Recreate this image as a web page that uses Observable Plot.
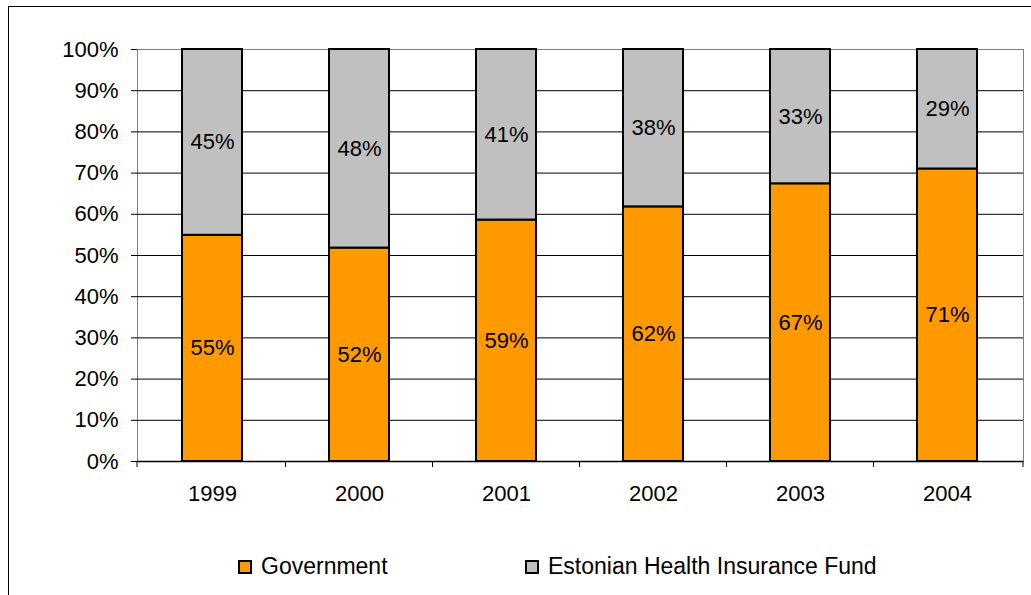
<!DOCTYPE html>
<html>
<head>
<meta charset="utf-8">
<script src="https://cdn.jsdelivr.net/npm/d3@7"></script>
<script src="https://cdn.jsdelivr.net/npm/@observablehq/plot@0.6"></script>
<style>
  html, body { margin: 0; padding: 0; background: #fff; overflow: hidden; }
  #wrap { position: relative; width: 1031px; height: 595px; font-family: "Liberation Sans", Arial, sans-serif; }
  #border { position: absolute; left: 8px; top: 6px; width: 1200px; height: 800px; border-left: 1px solid #000; border-top: 1px solid #000; }
  #chart { position: absolute; left: 0; top: 0; }
  .leg { position: absolute; top: 553px; display: flex; align-items: center; font-size: 23px; color: #000; white-space: nowrap; }
  .sw { width: 14px; height: 14px; box-sizing: border-box; border: 2px solid #000; margin-right: 9px; }
</style>
</head>
<body>
<div id="wrap">
  <div id="border"></div>
  <div id="chart"></div>
  <div id="legend"></div>
</div>
<script>
const years = ["1999", "2000", "2001", "2002", "2003", "2004"];
const government = [54.9, 51.8, 58.6, 61.8, 67.4, 71.0];
const fund = [45.1, 48.2, 41.4, 38.2, 32.6, 29.0];
const governmentLabels = ["55%", "52%", "59%", "62%", "67%", "71%"];
const fundLabels = ["45%", "48%", "41%", "38%", "33%", "29%"];
const yTicks = [0, 10, 20, 30, 40, 50, 60, 70, 80, 90, 100];
const seriesNames = ["Government", "Estonian Health Insurance Fund"];
const seriesColors = ["#FF9900", "#C0C0C0"];

const data = [];
years.forEach((y, i) => data.push({year: y, series: seriesNames[0], value: government[i], label: governmentLabels[i]}));
years.forEach((y, i) => data.push({year: y, series: seriesNames[1], value: fund[i], label: fundLabels[i]}));

// category boundary tick marks derived from the band scale
function boundaryTicks(index, scales, values, dims) {
  const x = scales.x;
  const bw = x.bandwidth ? x.bandwidth() : 0;
  const y0 = dims.height - dims.marginBottom;
  const xs = [dims.marginLeft];
  for (let i = 0; i < years.length - 1; i++) {
    xs.push((x(years[i]) + x(years[i + 1])) / 2 + bw / 2);
  }
  xs.push(dims.width - dims.marginRight);
  const g = d3.create("svg:g");
  xs.forEach(v => {
    g.append("line").attr("x1", v).attr("x2", v).attr("y1", y0).attr("y2", y0 + 6)
      .attr("stroke", "#000").attr("stroke-width", 1);
  });
  return g.node();
}

const plot = Plot.plot({
  width: 1031,
  height: 520,
  marginTop: 49,
  marginBottom: 59,
  marginLeft: 137,
  marginRight: 8,
  style: {fontFamily: "'Liberation Sans', Arial, sans-serif", fontSize: "22px", color: "#000", background: "transparent"},
  x: {domain: years, paddingInner: 0.59, paddingOuter: 0.295, label: null},
  y: {domain: [0, 100], label: null},
  color: {domain: seriesNames, range: seriesColors},
  marks: [
    Plot.frame({stroke: "#808080"}),
    Plot.ruleY(yTicks.filter(d => d > 0 && d < 100), {stroke: "#000", strokeWidth: 1}),
    Plot.axisY(yTicks, {tickSize: 6, tickPadding: 13, tickFormat: d => d + "%", fontSize: 22, stroke: "#000"}),
    Plot.axisX({tickSize: 0, tickPadding: 24, fontSize: 22}),
    Plot.barY(data, {x: "year", y: "value", fill: "series", stroke: "#000", strokeWidth: 2}),
    Plot.text(data, Plot.stackY({x: "year", y: "value", text: "label", fontSize: 22, fill: "#000"})),
    Plot.ruleY([0], {stroke: "#000", strokeWidth: 1.5}),
    boundaryTicks
  ]
});
document.getElementById("chart").appendChild(plot);

const leg = document.getElementById("legend");
const legPos = [238, 525];
seriesNames.forEach((name, i) => {
  const item = document.createElement("div");
  item.className = "leg";
  item.style.left = legPos[i] + "px";
  const sw = document.createElement("div");
  sw.className = "sw";
  sw.style.background = seriesColors[i];
  const t = document.createElement("span");
  t.textContent = name;
  item.appendChild(sw);
  item.appendChild(t);
  leg.appendChild(item);
});
</script>
</body>
</html>
